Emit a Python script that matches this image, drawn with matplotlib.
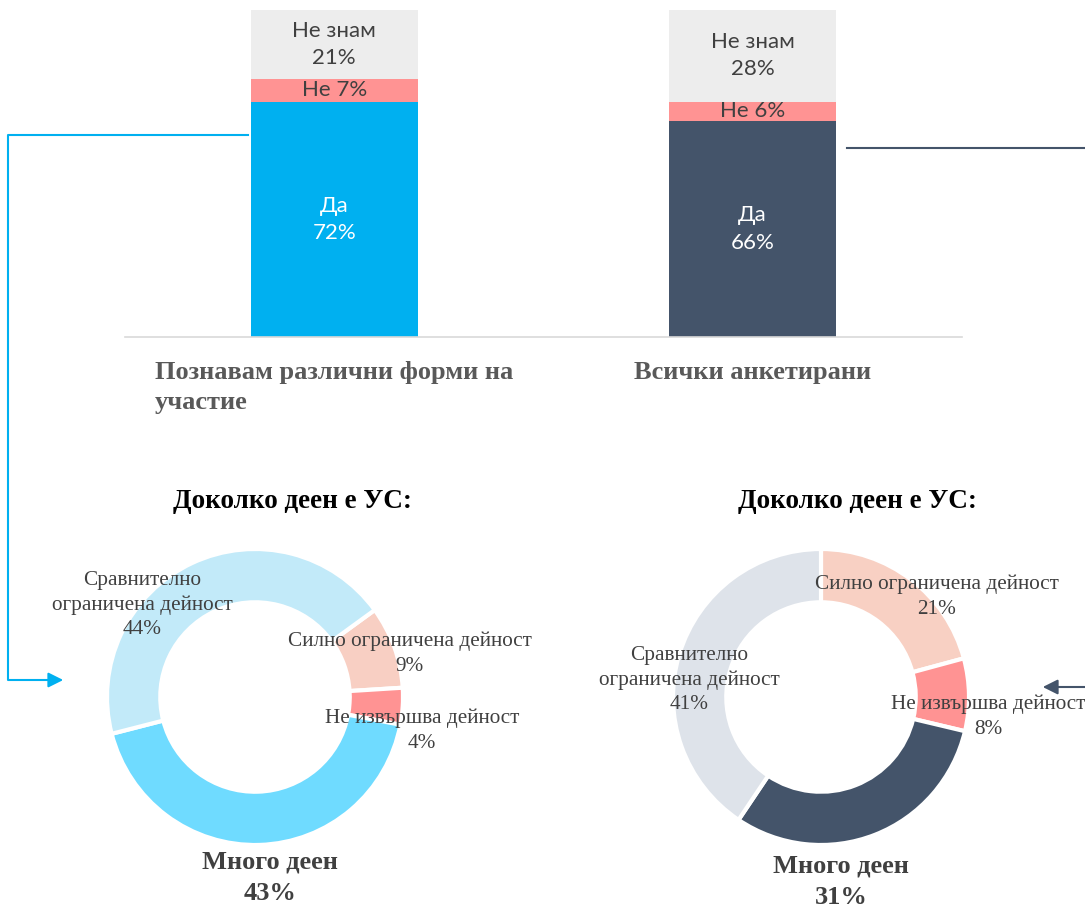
import matplotlib.pyplot as plt
import numpy as np

# top stacked bars
groups = ['Познавам различни форми на\nучастие', 'Всички анкетирани']
yes = [72, 66]
no = [7, 6]
dont_know = [21, 28]
yes_colors = ['#00B0F0', '#44546A']

# donuts
donut_title = 'Доколко деен е УС:'
left_labels = ['Силно ограничена дейност', 'Не извършва дейност', 'Много деен',
               'Сравнително\nограничена дейност']
left_vals = [9, 4, 43, 44]
left_colors = ['#F8CFC3', '#FF9393', '#6FDBFF', '#C2EAF9']
right_labels = ['Силно ограничена дейност', 'Не извършва дейност', 'Много деен',
                'Сравнително\nограничена дейност']
right_vals = [21, 8, 31, 41]
right_colors = ['#F8D0C3', '#FF9393', '#44546A', '#DEE3EA']

W, H = 1085, 909
fig = plt.figure(figsize=(W / 100, H / 100), dpi=100)


def box(x0, y0, x1, y1):
    return [x0 / W, 1 - y1 / H, (x1 - x0) / W, (y1 - y0) / H]


# ---- bar chart
ax = fig.add_axes(box(125, 10, 962, 337))
x = np.arange(len(groups))
bw = 0.40
ax.bar(x, yes, bw, color=yes_colors)
ax.bar(x, no, bw, bottom=yes, color='#FF9393')
ax.bar(x, dont_know, bw, bottom=np.add(yes, no), color='#EDEDED')
ax.set_xlim(-0.5, 1.5)
ax.set_ylim(0, 100)
for s in ['top', 'left', 'right']:
    ax.spines[s].set_visible(False)
ax.spines['bottom'].set_color('#D9D9D9')
ax.spines['bottom'].set_linewidth(1.2)
ax.set_yticks([])
ax.set_xticks(x)
ax.set_xticklabels(groups, family='Liberation Serif', fontweight='bold',
                   fontsize=19, color='#595959', multialignment='left',
                   linespacing=1.4)
ax.tick_params(axis='x', length=0, pad=17)

lab = dict(ha='center', va='center', family='Lato', fontsize=16, linespacing=1.45)
for i in range(len(groups)):
    ax.text(x[i], yes[i] / 2, f'Да\n{yes[i]}%', color='white', **lab)
    ax.text(x[i], yes[i] + no[i] / 2, f'Не {no[i]}%', color='#404040', **lab)
    ax.text(x[i], yes[i] + no[i] + dont_know[i] / 2, f'Не знам\n{dont_know[i]}%',
            color='#404040', **lab)

# ---- donuts
R = 148


def donut(cx, cy, vals, colors, start):
    a = fig.add_axes(box(cx - R, cy - R, cx + R, cy + R))
    a.pie(vals, colors=colors, startangle=start, counterclock=False, radius=1,
          wedgeprops=dict(width=0.36, edgecolor='white', linewidth=3))
    a.set_xlim(-1, 1)
    a.set_ylim(-1, 1)
    a.set_aspect('equal')
    a.axis('off')


donut(255, 697, left_vals, left_colors, 36)
donut(821, 697, right_vals, right_colors, 90)

# ---- overlay for texts and connectors
ov = fig.add_axes([0, 0, 1, 1], facecolor='none')
ov.set_xlim(0, W)
ov.set_ylim(H, 0)
ov.axis('off')

serif = dict(family='Liberation Serif', color='#404040', fontsize=15.3,
             ha='center', va='center', linespacing=1.4)
bold = dict(family='Liberation Serif', fontweight='bold', fontsize=19,
            color='#404040', ha='center', va='center', linespacing=1.45)
for cx in (292, 857):
    ov.text(cx, 502, donut_title, family='Liberation Serif', fontweight='bold',
            fontsize=19.5, color='black', ha='center', va='center')

# left donut labels
ov.text(142, 605, f'{left_labels[3]}\n{left_vals[3]}%', **serif)
ov.text(410, 654, f'{left_labels[0]}\n{left_vals[0]}%', **serif)
ov.text(422, 731, f'{left_labels[1]}\n{left_vals[1]}%', **serif)
ov.text(270, 878, f'{left_labels[2]}\n{left_vals[2]}%', **bold)

# right donut labels
ov.text(937, 597, f'{right_labels[0]}\n{right_vals[0]}%', **serif)
ov.text(689, 680, f'{right_labels[3]}\n{right_vals[3]}%', **serif)
ov.text(988, 717, f'{right_labels[1]}\n{right_vals[1]}%', **serif)
ov.text(841, 882, f'{right_labels[2]}\n{right_vals[2]}%', **bold)

# connectors
ov.plot([248, 8, 8, 52], [135, 135, 680, 680], color='#00B0F0', lw=1.5)
ov.annotate('', xy=(66, 680), xytext=(48, 680),
            arrowprops=dict(arrowstyle='-|>,head_length=0.9,head_width=0.45',
                            color='#00B0F0', lw=1.5))
ov.plot([847, 1090, 1090], [148, 148, 687], color='#44546A', lw=1.5)
ov.annotate('', xy=(1040, 687), xytext=(1090, 687),
            arrowprops=dict(arrowstyle='-|>,head_length=0.9,head_width=0.45',
                            color='#44546A', lw=1.5))

fig.savefig('out.png', dpi=100)
